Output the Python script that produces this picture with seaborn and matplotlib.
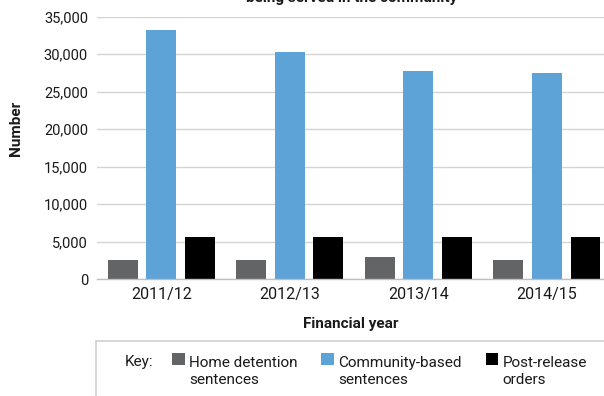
import numpy as np
import pandas as pd
import matplotlib.pyplot as plt
import matplotlib as mpl
import seaborn as sns
from matplotlib.legend_handler import HandlerPatch
from matplotlib.patches import Rectangle

# 数据
years = ['2011/12', '2012/13', '2013/14', '2014/15']
series = ['Home detention sentences', 'Community-based sentences', 'Post-release orders']
home_detention = [2550, 2550, 2950, 2550]
community_based = [33200, 30300, 27800, 27450]
post_release = [5700, 5700, 5700, 5700]
legend_labels = ['Home detention\nsentences', 'Community-based\nsentences', 'Post-release\norders']
colors = ['#636466', '#5ea3d8', '#000000']

df = pd.DataFrame({
    'year': years * 3,
    'type': [series[0]] * 4 + [series[1]] * 4 + [series[2]] * 4,
    'value': home_detention + community_based + post_release,
})

sns.set_theme(style='white')
plt.rcParams['font.family'] = ['Roboto', 'DejaVu Sans']

W, H = 604, 396
fig = plt.figure(figsize=(W / 100, H / 100), dpi=100)
ax = fig.add_axes([97 / W, 1 - 279.3 / H, 507 / W, (279.3 - 16.7) / H])

sns.barplot(data=df, x='year', y='value', hue='type', hue_order=series,
            palette=colors, saturation=1, width=0.9, gap=0.23,
            linewidth=0, errorbar=None, ax=ax)

handles, labels = ax.get_legend_handles_labels()
ax.get_legend().remove()

# 坐标轴
ax.set_ylim(0, 35000)
ax.set_xlim(-0.5, 3.445)
ax.set_yticks(np.arange(0, 35001, 5000))
ax.yaxis.set_major_formatter(mpl.ticker.FuncFormatter(lambda v, p: f'{v:,.0f}'))
ax.yaxis.grid(True, color='#d4d4d4', lw=1)
ax.set_axisbelow(True)
for s in ['left', 'right', 'top']:
    ax.spines[s].set_visible(False)
ax.spines['bottom'].set_color('#bfbfbf')
ax.spines['bottom'].set_linewidth(1)
ax.tick_params(axis='y', length=0, pad=6.5, labelsize=10.5, labelcolor='#1a1a1a')
ax.tick_params(axis='x', which='major', length=0, pad=5.5, labelsize=11.5, labelcolor='#1a1a1a')
ax.set_xticks([0.5, 1.5, 2.5], minor=True)
ax.tick_params(axis='x', which='minor', direction='in', length=5, width=1, color='#bfbfbf')

ax.set_xlabel('Financial year', fontweight='bold', fontsize=11, color='#1a1a1a')
ax.xaxis.set_label_coords(0.5, -0.143)
ax.set_ylabel('Number', fontweight='bold', fontsize=11, color='#1a1a1a')
ax.yaxis.set_label_coords(-0.146, 0.576)

fig.text(352 / W, 1 - 2 / H, 'being served in the community', ha='center',
         va='baseline', fontweight='bold', fontsize=11, color='#1a1a1a')

# 图例
fig.add_artist(Rectangle((96 / W, -0.2), 1, 0.2 + 1 - 341 / H, transform=fig.transFigure,
                         facecolor='none', edgecolor='#cfcfcf', lw=1.2))
fig.text(125 / W, 1 - 366 / H, 'Key:', ha='left', va='baseline', fontsize=11, color='#1a1a1a')


def shifted_square(legend, orig_handle, xdescent, ydescent, width, height, fontsize):
    return Rectangle((-xdescent, -ydescent + 9.5), width, height)


hmap = {h: HandlerPatch(patch_func=shifted_square) for h in handles}
leg = fig.legend(handles, legend_labels, loc='upper left',
                 bbox_to_anchor=(172 / W, 1 - 356 / H), ncol=3, frameon=False,
                 fontsize=11, handlelength=0.82, handleheight=0.82, handletextpad=0.3,
                 columnspacing=1.55, borderpad=0, borderaxespad=0, handler_map=hmap)
for t in leg.get_texts():
    t.set_linespacing(1.3)
    t.set_color('#1a1a1a')

fig.savefig('out.png', dpi=100)
